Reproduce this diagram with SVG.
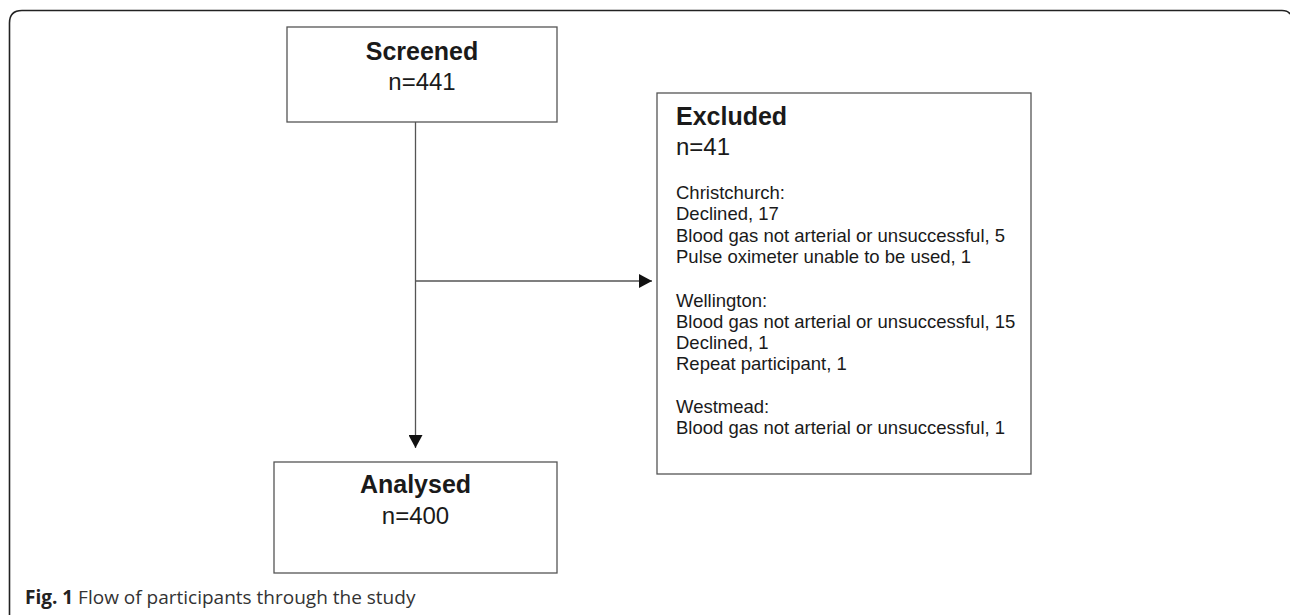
<svg xmlns="http://www.w3.org/2000/svg" width="1290" height="615" viewBox="0 0 1290 615">
<style>
.box{fill:#fff;stroke:#555;stroke-width:1.3}
.conn{fill:none;stroke:#555;stroke-width:1.3}
.hd{font-family:"Liberation Sans",Arial,sans-serif;font-weight:bold;font-size:25px;fill:#1a1a1a}
.num{font-family:"Liberation Sans",Arial,sans-serif;font-size:24px;fill:#1a1a1a}
.sm{font-family:"Liberation Sans",Arial,sans-serif;font-size:18.5px;fill:#1a1a1a}
.cap{font-family:"Open Sans","Noto Sans",sans-serif;font-size:19px;fill:#333}
</style>
<defs>
<marker id="ah" markerWidth="13" markerHeight="14" refX="13" refY="7" orient="auto" markerUnits="userSpaceOnUse">
<path d="M0,0 L13,7 L0,14 Z" fill="#111"/>
</marker>
</defs>
<rect width="1290" height="615" fill="#fff"/>
<path d="M9.5 615 V23 Q9.5 10.5 22 10.5 H1282 Q1288 10.5 1290 14" fill="none" stroke="#222" stroke-width="1.6"/>
<g id="connectors">
<line class="conn" x1="415.5" y1="122" x2="415.5" y2="448" marker-end="url(#ah)"/>
<line class="conn" x1="415.5" y1="281" x2="652" y2="281" marker-end="url(#ah)"/>
</g>
<g id="screened">
<rect class="box" x="287" y="27" width="270" height="95"/>
<text class="hd" x="422" y="60" text-anchor="middle">Screened</text>
<text class="num" x="422" y="90" text-anchor="middle">n=441</text>
</g>
<g id="analysed">
<rect class="box" x="274" y="462" width="283" height="111"/>
<text class="hd" x="415.5" y="493" text-anchor="middle">Analysed</text>
<text class="num" x="415.5" y="524" text-anchor="middle">n=400</text>
</g>
<g id="excluded">
<rect class="box" x="657" y="93" width="374" height="381"/>
<text class="hd" x="676" y="125">Excluded</text>
<text class="num" x="676" y="155">n=41</text>
<text class="sm" x="676" y="199">Christchurch:</text>
<text class="sm" x="676" y="220">Declined, 17</text>
<text class="sm" x="676" y="242">Blood gas not arterial or unsuccessful, 5</text>
<text class="sm" x="676" y="263">Pulse oximeter unable to be used, 1</text>
<text class="sm" x="676" y="307">Wellington:</text>
<text class="sm" x="676" y="328">Blood gas not arterial or unsuccessful, 15</text>
<text class="sm" x="676" y="349">Declined, 1</text>
<text class="sm" x="676" y="370">Repeat participant, 1</text>
<text class="sm" x="676" y="413">Westmead:</text>
<text class="sm" x="676" y="434">Blood gas not arterial or unsuccessful, 1</text>
</g>
<text class="cap" x="25" y="604"><tspan font-weight="bold" fill="#222">Fig. 1</tspan> Flow of participants through the study</text>
</svg>
